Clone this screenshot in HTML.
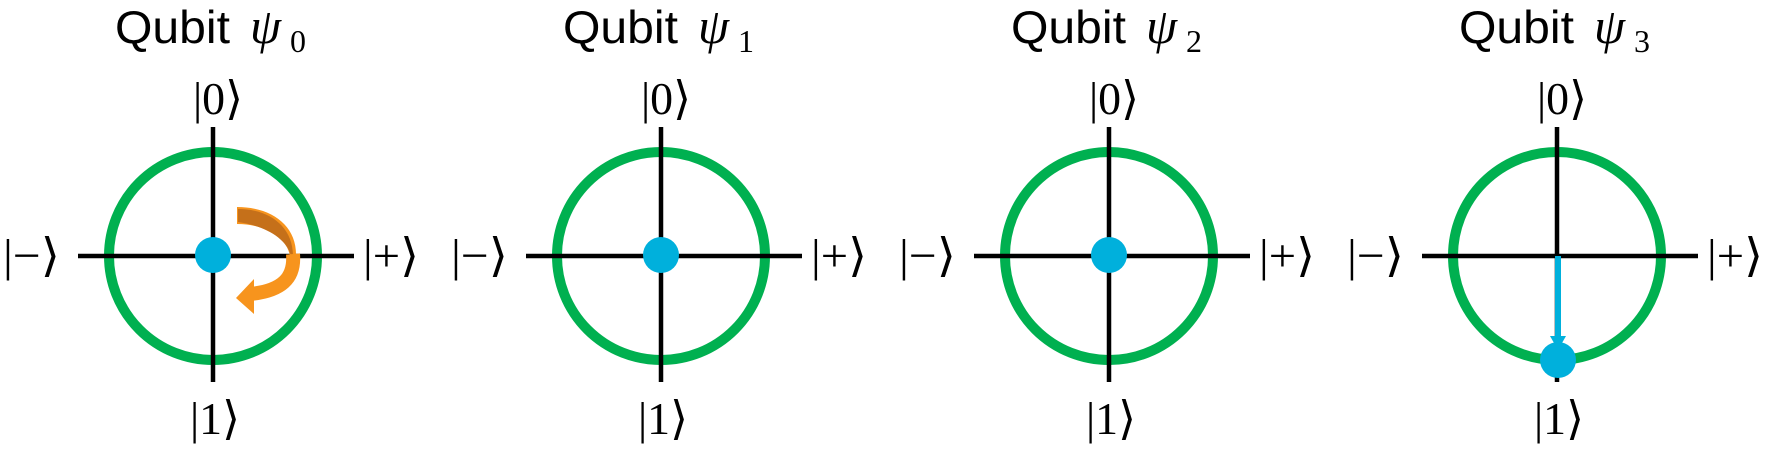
<!DOCTYPE html>
<html><head><meta charset="utf-8"><style>html,body{margin:0;padding:0;background:#fff}svg{display:block}</style></head>
<body>
<svg width="1770" height="450" viewBox="0 0 1770 450" xmlns="http://www.w3.org/2000/svg">
<defs>
<g id="panel">
  <circle cx="0" cy="0" r="104" fill="none" stroke="#00B050" stroke-width="10"/>
  <line x1="-135" y1="0" x2="141" y2="0" stroke="#000" stroke-width="4.5"/>
  <line x1="0" y1="-129" x2="0" y2="126" stroke="#000" stroke-width="4.5"/>
  <g font-family="Liberation Serif, DejaVu Serif, serif" font-size="46" fill="#000">
  <text x="-20" y="-142" textLength="50" lengthAdjust="spacingAndGlyphs">|0⟩</text>
  <text x="-23" y="178" textLength="50" lengthAdjust="spacingAndGlyphs">|1⟩</text>
  <text x="-210" y="15" textLength="57" lengthAdjust="spacingAndGlyphs">|−⟩</text>
  <text x="150" y="15" textLength="56" lengthAdjust="spacingAndGlyphs">|+⟩</text>
  </g>
</g>
<g id="title">
  <text x="0" y="43" font-family="Liberation Sans, sans-serif" font-size="46" textLength="115" lengthAdjust="spacingAndGlyphs">Qubit</text>
  <text x="135" y="43" font-family="Liberation Serif, DejaVu Serif, serif" font-style="italic" font-size="50">ψ</text>
</g>
</defs>

<g transform="translate(213,256)"><use href="#panel"/></g>
<g transform="translate(661,256)"><use href="#panel"/></g>
<g transform="translate(1109,256)"><use href="#panel"/></g>
<g transform="translate(1557,256)"><use href="#panel"/></g>

<g font-family="Liberation Serif, DejaVu Serif, serif" font-size="32" fill="#000">
  <g transform="translate(115,0)"><use href="#title"/><text x="175" y="52">0</text></g>
  <g transform="translate(563,0)"><use href="#title"/><text x="175" y="52">1</text></g>
  <g transform="translate(1011,0)"><use href="#title"/><text x="175" y="52">2</text></g>
  <g transform="translate(1459,0)"><use href="#title"/><text x="175" y="52">3</text></g>
</g>

<!-- orange rotation arrow -->
<path d="M237,207 C272,207 297,226 296,256 L290,256 C287,238 266,224 237,224 Z" fill="#F7941D"/>
<path d="M238,209 C270,209 293,227 293,256 L291,256 C287,239 266,226 238,222 Z" fill="#C5701A"/>
<path d="M293,254 C295,278 282,291 250,294" fill="none" stroke="#F7941D" stroke-width="14"/>
<polygon points="236,298 254,279 254,314" fill="#F7941D"/>

<!-- dots -->
<circle cx="213" cy="255" r="18" fill="#00B0DC"/>
<circle cx="661" cy="255" r="18" fill="#00B0DC"/>
<circle cx="1109" cy="255" r="18" fill="#00B0DC"/>

<!-- panel 3 vector -->
<line x1="1558" y1="256" x2="1558" y2="340" stroke="#00B0DC" stroke-width="6"/>
<polygon points="1550,336 1566,336 1558,350" fill="#00B0DC"/>
<circle cx="1558" cy="360" r="18" fill="#00B0DC"/>
</svg>
</body></html>
